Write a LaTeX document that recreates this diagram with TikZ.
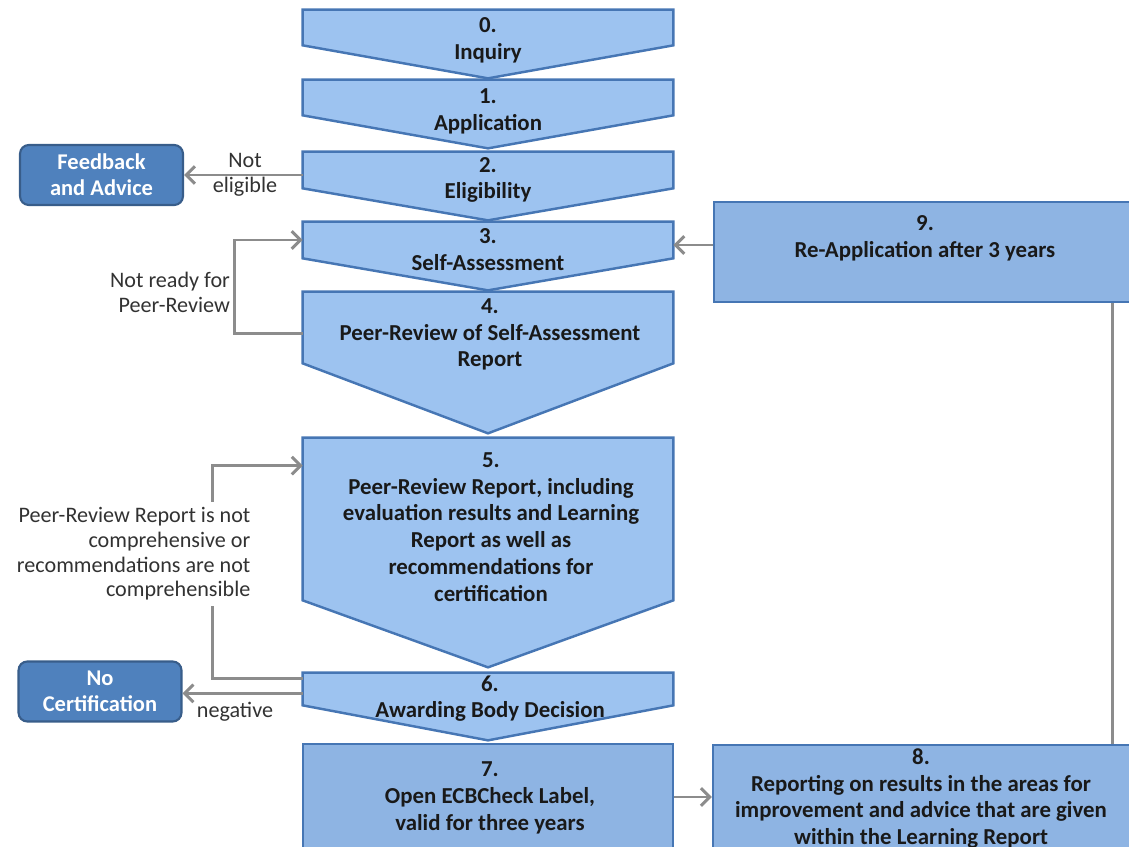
\documentclass[tikz,border=0pt]{standalone}
\usepackage{fontspec}
\setmainfont{Carlito}
\usetikzlibrary{arrows.meta,calc,fit}
\definecolor{chevfill}{RGB}{157,195,240}
\definecolor{boxfill}{RGB}{142,180,227}
\definecolor{bordblue}{RGB}{70,118,180}
\definecolor{darkfill}{RGB}{79,129,189}
\definecolor{darkbord}{RGB}{56,93,138}
\definecolor{conngray}{RGB}{140,140,140}
\definecolor{txt}{RGB}{25,25,25}
\definecolor{lbl}{RGB}{50,50,50}
\newcommand\chevshape[4]{%
  \node[area,fit={(303,#2)(673,#3)}] (#1) {};
  \path[shapefill] (#1.north west) -- (#1.north east) -- (#1.south east)
     -- ($(#1.south)+(0,{#4-#3})$) -- (#1.south west) -- cycle;}
\begin{document}
\begin{tikzpicture}[x=0.02cm,y=-0.02cm,
  shapefill/.style={fill=chevfill,draw=bordblue,line width=1.4pt,line join=miter},
  rectbox/.style={fill=boxfill,draw=bordblue,line width=1.4pt,inner sep=0pt},
  area/.style={inner sep=0pt,draw=none},
  steptext/.style={align=center,font=\fontsize{13}{15.2}\selectfont\bfseries,text=txt,inner sep=0pt},
  sidebox/.style={rounded corners=5pt,fill=darkfill,draw=darkbord,line width=1.2pt,text=white,align=center,
     font=\fontsize{12.8}{14.8}\selectfont\bfseries,minimum width=3.26cm,minimum height=1.2cm,inner sep=0pt},
  conn/.style={draw=conngray,line width=1.7pt,-{Straight Barb[length=5pt,width=10pt]}},
  plainconn/.style={draw=conngray,line width=1.7pt},
  note/.style={font=\fontsize{12.6}{14}\selectfont,text=lbl,inner sep=1pt}
]
\useasboundingbox (0,0) rectangle (1129,847);
\clip (0,0) rectangle (1129,847);

% chevrons
\chevshape{b0}{10}{45}{78}
\chevshape{b1}{80}{115}{148}
\chevshape{b2}{152}{188}{220}
\chevshape{b3}{222}{258}{290}
\chevshape{b4}{292}{363}{433}
\chevshape{b5}{438}{600}{667}
\chevshape{b6}{673}{705}{740}

% rectangles
\node[rectbox,fit={(303,744)(673,870)}] (b7) {};
\node[rectbox,fit={(713,745)(1140,870)}] (b8) {};
\node[rectbox,fit={(714,202)(1140,302)}] (b9) {};

% side boxes
\node[sidebox] (fb) at (101.5,175) {Feedback\\and Advice};
\node[sidebox] (nc) at (100,691.5) {No\\Certification};

% texts
\node[steptext] (t0) at (488,40.5) {0.\\Inquiry};
\node[steptext] (t1) at (488,111.5) {1.\\Application};
\node[steptext] (t2) at (488,180) {2.\\Eligibility};
\node[steptext] (t3) at (488,249.5) {3.\\Self-Assessment};
\node[steptext] (t4) at (490,334.5) {4.\\Peer-Review of Self-Assessment\\Report};
\node[steptext] (t5) at (491,527) {5.\\Peer-Review Report, including\\evaluation results and Learning\\Report as well as\\recommendations for\\certification};
\node[steptext] (t6) at (490,698.5) {6.\\Awarding Body Decision};
\node[steptext] (t7) at (490,798) {7.\\Open ECBCheck Label,\\valid for three years};
\node[steptext] (t8) at (921,798.5) {8.\\Reporting on results in the areas for\\improvement and advice that are given\\within the Learning Report};
\node[steptext] (t9) at (925,238.5) {9.\\Re-Application after 3 years};

% connectors
\draw[conn] (b2.west |- fb.east) -- (fb.east);
\node[note,align=center] (l1) at (245,175) {Not\\eligible};

\draw[conn] ($(b4.west)+(0,6)$) -- ++(-68,0) |- (b3.west);
\node[note,align=right,anchor=east] (l2) at (232,292.5) {Not ready for\\Peer-Review};

\coordinate (o6) at ($(b6.north west)+(0,6)$);
\draw[conn] (o6) -- ++(-90,0) |- ($(b5.north west)+(0,28)$);
\node[note,align=right,anchor=east,fill=white,inner sep=3pt] (l3) at (256,554) {Peer-Review Report is not\\comprehensive or\\recommendations are not\\comprehensible};

\coordinate (n6) at ($(b6.south west)+(0,-12)$);
\draw[conn] (n6) -- (n6 -| nc.east);
\node[note] (l4) at (235,712) {negative};

\coordinate (r3) at ($(b3.east)+(0,5)$);
\draw[conn] (r3 -| b9.west) -- (r3);

\coordinate (r7) at (0,797);
\draw[conn] (r7 -| b7.east) -- (r7 -| b8.west);

\coordinate (v) at (1112,0);
\draw[plainconn] (b8.north -| v) -- (b9.south -| v);
\end{tikzpicture}
\end{document}
